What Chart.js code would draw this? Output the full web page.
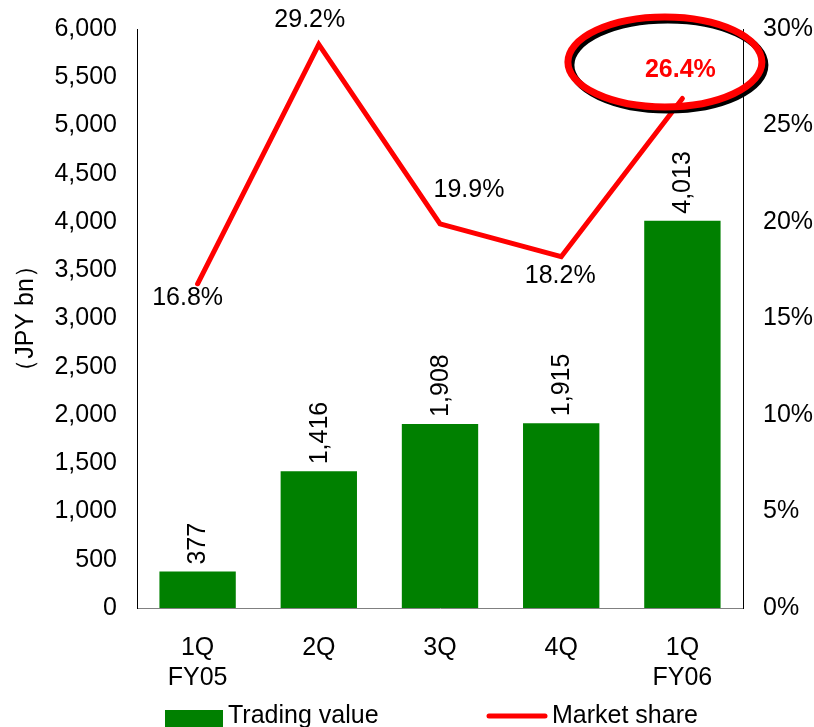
<!DOCTYPE html>
<html>
<head>
<meta charset="utf-8">
<script src="https://cdn.jsdelivr.net/npm/chart.js@4/dist/chart.umd.min.js"></script>
<style>
  html, body { margin: 0; padding: 0; background: #fff; }
  canvas { display: block; }
</style>
</head>
<body>
<canvas id="chart" width="814" height="727"></canvas>
<script>
const quarters = [['1Q', 'FY05'], '2Q', '3Q', '4Q', ['1Q', 'FY06']]
const tradingValue = [377, 1416, 1908, 1915, 4013]
const marketShare = [16.8, 29.2, 19.9, 18.2, 26.4]
const valueTicks = [0, 6000, 500]
const shareTicks = [0, 30, 5]

const FONT = 'Liberation Sans, Arial, sans-serif'
const GREEN = '#008000'
const RED = '#ff0000'

// where each market share label sits relative to its point
const shareLabelOffsets = [[-10, 14], [-9, -24], [29, -34], [-1, 19], [-2, -28]]

const labelsPlugin = {
  id: 'valueLabels',
  afterDatasetsDraw(chart) {
    const ctx = chart.ctx
    const bars = chart.getDatasetMeta(1).data
    const points = chart.getDatasetMeta(0).data

    ctx.save()
    ctx.fillStyle = '#000'
    ctx.font = '25px ' + FONT
    ctx.textBaseline = 'middle'
    ctx.textAlign = 'left'
    bars.forEach((bar, i) => {
      ctx.save()
      ctx.translate(bar.x, bar.y - 7)
      ctx.rotate(-Math.PI / 2)
      ctx.fillText(tradingValue[i].toLocaleString('en-US'), 0, 1)
      ctx.restore()
    })

    ctx.textAlign = 'center'
    points.forEach((pt, i) => {
      const [dx, dy] = shareLabelOffsets[i]
      const last = i === points.length - 1
      const x = pt.x + dx
      const y = pt.y + dy
      if (last) {
        // highlight ring with a hard black shadow
        ctx.lineWidth = 7
        ctx.strokeStyle = '#000'
        ctx.beginPath()
        ctx.ellipse(x - 15.5 + 3, y - 8.5 + 3, 97, 45, 0, 0, Math.PI * 2)
        ctx.stroke()
        ctx.strokeStyle = RED
        ctx.beginPath()
        ctx.ellipse(x - 15.5, y - 8.5, 97, 45, 0, 0, Math.PI * 2)
        ctx.stroke()
        ctx.fillStyle = RED
        ctx.font = 'bold 25px ' + FONT
      } else {
        ctx.fillStyle = '#000'
        ctx.font = '25px ' + FONT
      }
      ctx.fillText(marketShare[i].toFixed(1) + '%', x, y)
    })
    ctx.restore()
  },
  afterDraw(chart) {
    // legend along the bottom edge
    const ctx = chart.ctx
    ctx.save()
    ctx.font = '25px ' + FONT
    ctx.textBaseline = 'middle'
    ctx.textAlign = 'left'
    ctx.fillStyle = GREEN
    ctx.fillRect(165, 710, 58, 20)
    ctx.fillStyle = '#000'
    ctx.fillText('Trading value', 228, 716)
    ctx.strokeStyle = RED
    ctx.lineWidth = 5
    ctx.lineCap = 'round'
    ctx.beginPath()
    ctx.moveTo(489, 716)
    ctx.lineTo(545, 716)
    ctx.stroke()
    ctx.fillText('Market share', 552, 716)
    ctx.restore()
  }
}

// fixed scale widths; drop the label overhang padding so the plot area keeps its size
const fitVertical = width => s => {
  s.width = width
  s.paddingTop = 0
  s.paddingBottom = 0
}

new Chart(document.getElementById('chart'), {
  data: {
    labels: quarters,
    datasets: [{
      type: 'line',
      label: 'Market share',
      data: marketShare,
      yAxisID: 'y1',
      borderColor: RED,
      borderWidth: 5,
      borderCapStyle: 'round',
      borderJoinStyle: 'miter',
      pointRadius: 0,
      tension: 0,
      order: 0,
    }, {
      type: 'bar',
      label: 'Trading value',
      data: tradingValue,
      yAxisID: 'y',
      backgroundColor: GREEN,
      barPercentage: 0.63,
      categoryPercentage: 1,
      order: 1,
    }]
  },
  options: {
    responsive: false,
    animation: false,
    devicePixelRatio: 1,
    layout: { padding: { top: 29, left: 0, right: 0, bottom: 0 } },
    plugins: {
      legend: { display: false },
      tooltip: { enabled: false },
    },
    scales: {
      x: {
        grid: { display: false, drawTicks: false },
        border: { display: true, color: '#808080', width: 1 },
        ticks: { color: '#000', font: { family: FONT, size: 25, lineHeight: 1.2 }, padding: 25, maxRotation: 0 },
        afterFit: s => {
          s.height = 119
          s.paddingLeft = 0
          s.paddingRight = 0
        },
      },
      y: {
        position: 'left',
        min: valueTicks[0],
        max: valueTicks[1],
        grid: { display: false, drawTicks: false },
        border: { display: true, color: '#000', width: 1 },
        ticks: {
          stepSize: valueTicks[2],
          color: '#000',
          padding: 20,
          font: { family: FONT, size: 25 },
          callback: v => v.toLocaleString('en-US'),
        },
        title: {
          display: true,
          text: '（JPY bn）',
          color: '#000',
          font: { family: FONT, size: 25 },
          padding: { top: 11, bottom: 0 },
        },
        afterFit: fitVertical(137),
      },
      y1: {
        position: 'right',
        min: shareTicks[0],
        max: shareTicks[1],
        grid: { display: false, drawTicks: false },
        border: { display: true, color: '#000', width: 1 },
        ticks: {
          stepSize: shareTicks[2],
          color: '#000',
          padding: 20,
          font: { family: FONT, size: 25 },
          callback: v => v + '%',
        },
        afterFit: fitVertical(71),
      },
    },
  },
  plugins: [labelsPlugin],
})
</script>
</body>
</html>
